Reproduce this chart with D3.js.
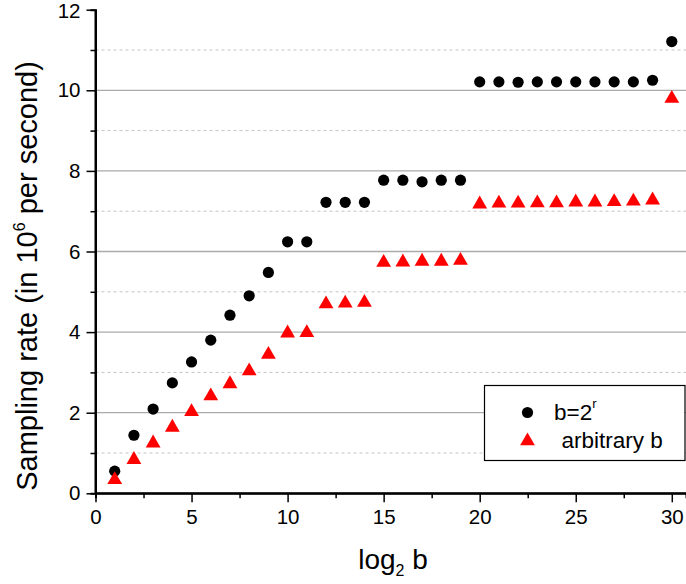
<!DOCTYPE html>
<html>
<head>
<script src="https://cdn.jsdelivr.net/npm/d3@7"></script>
<style>
  body { margin: 0; background: #fff; }
  text { font-family: "Liberation Sans", Arial, sans-serif; }
</style>
</head>
<body>
<svg id="mainsvg" width="686" height="584"></svg>
<script>
// data
const xs = d3.range(1, 31);
const powerOfTwo = [0.55, 1.44, 2.09, 2.74, 3.26, 3.80, 4.42, 4.90, 5.48, 6.24,
                    6.24, 7.22, 7.22, 7.22, 7.77, 7.77, 7.73, 7.77, 7.77, 10.21,
                    10.21, 10.20, 10.21, 10.21, 10.21, 10.21, 10.21, 10.21, 10.25, 11.21];
const arbitrary = [0.36, 0.86, 1.27, 1.66, 2.05, 2.44, 2.74, 3.06, 3.47, 4.00,
                   4.01, 4.72, 4.74, 4.76, 5.75, 5.76, 5.78, 5.78, 5.80, 7.20,
                   7.22, 7.22, 7.23, 7.23, 7.25, 7.25, 7.26, 7.27, 7.30, 9.82];
const xTicks = [0, 5, 10, 15, 20, 25, 30];
const yTicks = [0, 2, 4, 6, 8, 10, 12];

const svg = d3.select('#mainsvg');
const margin = {left: 95.5, right: 0, top: 9.7, bottom: 90.7};
const width = +svg.attr('width'), height = +svg.attr('height');

const xScale = d3.scaleLinear().domain([0, 30.74]).range([margin.left, width - margin.right]);
const yScale = d3.scaleLinear().domain([0, 12]).range([height - margin.bottom, margin.top]);

const g = svg.append('g');

// grid lines
const minorY = d3.range(1, 12, 2);
g.selectAll('.minor-grid').data(minorY).enter().append('line')
  .attr('x1', xScale(0)).attr('x2', width)
  .attr('y1', d => yScale(d)).attr('y2', d => yScale(d))
  .attr('stroke', '#c4c4c4').attr('stroke-width', 1).attr('stroke-dasharray', '3,3');
g.selectAll('.major-grid').data([2, 4, 6, 8, 10]).enter().append('line')
  .attr('x1', xScale(0)).attr('x2', width)
  .attr('y1', d => yScale(d)).attr('y2', d => yScale(d))
  .attr('stroke', '#aaaaaa').attr('stroke-width', 1.3);

// axes
const yAxis = d3.axisLeft(yScale).tickValues(yTicks).tickSize(9).tickPadding(6).tickFormat(d3.format('d'));
const yMinor = d3.axisLeft(yScale).tickValues(minorY).tickSize(5).tickFormat('');
const xAxis = d3.axisBottom(xScale).tickValues(xTicks).tickSize(9).tickPadding(7).tickFormat(d3.format('d'));
const xMinor = d3.axisBottom(xScale).tickValues(d3.range(2.5, 31, 5)).tickSize(5).tickFormat('');

const yG = g.append('g').attr('transform', `translate(${xScale(0)},0)`).call(yAxis);
g.append('g').attr('transform', `translate(${xScale(0)},0)`).call(yMinor);
const xG = g.append('g').attr('transform', `translate(0,${yScale(0)})`).call(xAxis);
g.append('g').attr('transform', `translate(0,${yScale(0)})`).call(xMinor);

g.selectAll('.domain').attr('stroke', '#000').attr('stroke-width', 2);
g.selectAll('.tick line').attr('stroke', '#000').attr('stroke-width', 1.5);
g.selectAll('.tick text').attr('font-size', 20.5).attr('fill', '#000')
  .style('font-family', '"Liberation Sans", Arial, sans-serif');
xG.selectAll('.domain').attr('d', `M${xScale(0)},0H${width}`);
yG.selectAll('.domain').attr('d', `M0,${yScale(12)}V${yScale(0)}`);
// keep the top label inside the picture
yG.selectAll('.tick text').filter(d => d === 12).attr('dy', '0.36em');

// axis titles
const yTitle = svg.append('text')
  .attr('transform', `translate(37,276) rotate(-90)`)
  .attr('text-anchor', 'middle').attr('font-size', 29);
yTitle.append('tspan').text('Sampling rate (in 10');
yTitle.append('tspan').attr('font-size', 16).attr('dy', -12).text('6');
yTitle.append('tspan').attr('dy', 12).text(' per second)');

const xTitle = svg.append('text')
  .attr('x', 393).attr('y', 569)
  .attr('text-anchor', 'middle').attr('font-size', 28);
xTitle.append('tspan').text('log');
xTitle.append('tspan').attr('font-size', 16).attr('dy', 7).text('2');
xTitle.append('tspan').attr('dy', -7).text(' b');

// markers
const triangle = d3.symbol().type(d3.symbolTriangle).size(95);

g.selectAll('.pt-circle').data(xs).enter().append('circle')
  .attr('cx', d => xScale(d)).attr('cy', (d, i) => yScale(powerOfTwo[i]))
  .attr('r', 5.6).attr('fill', '#000');

g.selectAll('.pt-tri').data(xs).enter().append('path')
  .attr('d', triangle)
  .attr('transform', (d, i) => `translate(${xScale(d)},${yScale(arbitrary[i]) + 1})`)
  .attr('fill', '#ff0000');

// legend
const lg = svg.append('g');
lg.append('rect').attr('x', 484.5).attr('y', 385.5).attr('width', 200.5).attr('height', 75)
  .attr('fill', '#fff').attr('stroke', '#000').attr('stroke-width', 1.2);
lg.append('circle').attr('cx', 527.5).attr('cy', 412.5).attr('r', 5.6).attr('fill', '#000');
lg.append('path').attr('d', triangle).attr('transform', 'translate(527.5,441)').attr('fill', '#ff0000');
const l1 = lg.append('text').attr('x', 554).attr('y', 420).attr('font-size', 22.5);
l1.append('tspan').text('b=2');
l1.append('tspan').attr('font-size', 13).attr('dy', -12).text('r');
lg.append('text').attr('x', 561.5).attr('y', 448).attr('font-size', 22.5).text('arbitrary b');
</script>
</body>
</html>
